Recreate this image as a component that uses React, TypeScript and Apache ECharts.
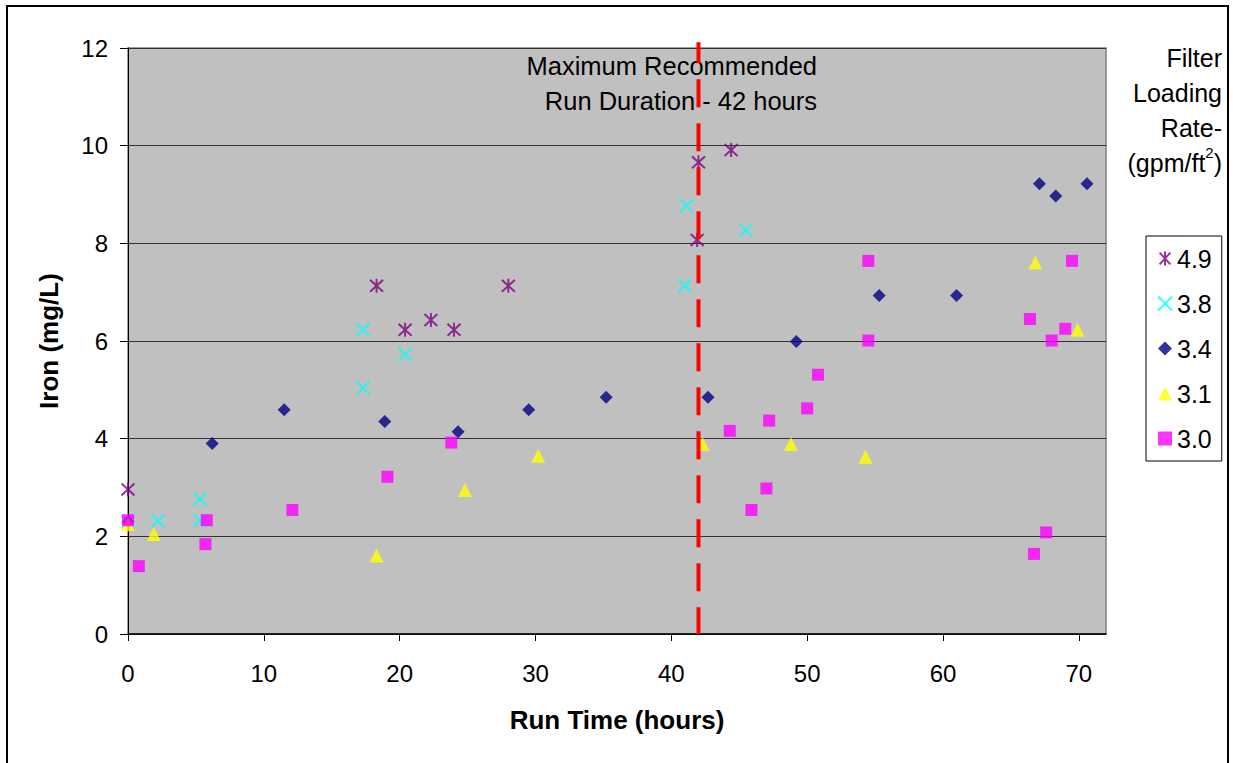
import React, { useEffect, useRef } from 'react';
import * as echarts from 'echarts';

// Filter loading rates (gpm/ft²)
const seriesNames = ['4.9', '3.8', '3.4', '3.1', '3.0'];

// [run time (hours), iron (mg/L)]
const rate49 = [
  [0, 2.96], [18.3, 7.13], [20.4, 6.23], [22.3, 6.43], [24.0, 6.23],
  [28.0, 7.13], [41.9, 8.07], [42.0, 9.66], [44.4, 9.91],
];
const rate38 = [
  [0, 2.3], [2.2, 2.32], [5.3, 2.32], [5.3, 2.76], [17.3, 5.04], [17.3, 6.23],
  [20.4, 5.73], [41.0, 7.13], [41.1, 8.77], [45.5, 8.27],
];
const rate34 = [
  [0, 2.3], [6.2, 3.9], [11.5, 4.59], [18.9, 4.35], [24.3, 4.14], [29.5, 4.59],
  [35.2, 4.85], [42.7, 4.85], [49.2, 5.99], [55.3, 6.93], [61.0, 6.93],
  [67.1, 9.22], [68.3, 8.97], [70.6, 9.22],
];
const rate31 = [
  [0, 2.25], [1.9, 2.05], [18.3, 1.61], [24.8, 2.95], [30.2, 3.65], [42.3, 3.89],
  [48.8, 3.89], [54.3, 3.63], [66.8, 7.61], [69.9, 6.23],
];
const rate30 = [
  [0, 2.33], [0.8, 1.39], [5.7, 1.84], [5.8, 2.33], [12.1, 2.54], [19.1, 3.22],
  [23.8, 3.92], [44.3, 4.16], [45.9, 2.54], [47.0, 2.98], [47.2, 4.37],
  [50.0, 4.62], [50.8, 5.31], [54.5, 6.01], [54.5, 7.64], [66.4, 6.45],
  [66.7, 1.64], [67.6, 2.08], [68.0, 6.01], [69.0, 6.25], [69.5, 7.64],
];

const xTicks = [0, 10, 20, 30, 40, 50, 60, 70];
const yTicks = [0, 2, 4, 6, 8, 10, 12];
const maxRunDuration = 42;
const limitLine = [[maxRunDuration, 12.12], [maxRunDuration, 0]];

const FONT = '"Liberation Sans", Arial, sans-serif';

export default function App() {
  const ref = useRef<HTMLDivElement>(null);

  useEffect(() => {
    document.body.style.margin = '0';
    const chart = echarts.init(ref.current!, null, { renderer: 'svg' });

    const asterisk = 'path://M1,1L11,12M11,1L1,12M6,0L6,13';
    const cross = 'path://M0,0L10,10M10,0L0,10';

    chart.setOption({
      animation: false,
      backgroundColor: '#ffffff',
      textStyle: { fontFamily: FONT },
      grid: {
        left: 128,
        top: 48,
        right: 127,
        bottom: 129,
        show: true,
        backgroundColor: '#C0C0C0',
        borderColor: '#808080',
        borderWidth: 1.5,
      },
      xAxis: {
        type: 'value',
        min: 0,
        max: 72,
        interval: 10,
        name: 'Run Time (hours)',
        nameLocation: 'middle',
        nameGap: 73,
        nameTextStyle: { fontSize: 26, fontWeight: 'bold', color: '#000', fontFamily: FONT },
        axisLine: { show: true, onZero: false, lineStyle: { color: '#000', width: 1.5 } },
        axisTick: { show: true, length: 7, customValues: xTicks, lineStyle: { color: '#000' } },
        axisLabel: { customValues: xTicks, margin: 27, fontSize: 24, color: '#000', fontFamily: FONT },
        splitLine: { show: false },
      },
      yAxis: {
        type: 'value',
        min: 0,
        max: 12,
        interval: 2,
        name: 'Iron (mg/L)',
        nameLocation: 'middle',
        nameGap: 66,
        nameTextStyle: { fontSize: 26, fontWeight: 'bold', color: '#000', fontFamily: FONT },
        axisLine: { show: true, onZero: false, lineStyle: { color: '#000', width: 1 } },
        axisTick: { show: true, length: 8, customValues: yTicks, lineStyle: { color: '#000' } },
        axisLabel: { customValues: yTicks, margin: 20, fontSize: 24, color: '#000', fontFamily: FONT },
        splitLine: { show: true, lineStyle: { color: '#333', width: 1 } },
      },
      legend: {
        data: seriesNames,
        orient: 'vertical',
        left: 1146,
        top: 236,
        padding: [10, 10, 10, 11],
        itemGap: 20,
        itemWidth: 14,
        itemHeight: 14,
        backgroundColor: '#fff',
        borderColor: '#000',
        borderWidth: 1,
        textStyle: { fontSize: 25, lineHeight: 22, color: '#000', fontFamily: FONT },
      },
      graphic: [
        {
          type: 'rect',
          shape: { x: 7, y: 6, width: 1221, height: 800 },
          style: { fill: 'none', stroke: '#000', lineWidth: 2 },
          z: 100,
          silent: true,
        },
        {
          type: 'text',
          x: 1222,
          y: 40,
          style: {
            text: 'Filter\nLoading\nRate-\n(gpm/ft{sup|2})',
            align: 'right',
            verticalAlign: 'top',
            lineHeight: 35,
            font: '25px ' + FONT,
            fill: '#000',
            rich: {
              sup: { fontSize: 15, lineHeight: 35, verticalAlign: 'top', padding: [0, 0, 12, 0], fontFamily: FONT, fill: '#000' },
            },
          },
          silent: true,
        },
        {
          type: 'text',
          x: 817,
          y: 48,
          z: 1,
          style: {
            text: 'Maximum Recommended\nRun Duration - 42 hours',
            align: 'right',
            verticalAlign: 'top',
            lineHeight: 35,
            font: '25.5px ' + FONT,
            fill: '#000',
          },
          silent: true,
        },
      ],
      series: [
        {
          name: '4.9',
          type: 'scatter',
          data: rate49,
          symbol: asterisk,
          symbolSize: [13, 14],
          itemStyle: { color: '#800080', borderColor: '#800080', borderWidth: 2 },
          z: 3,
        },
        {
          name: '3.8',
          type: 'scatter',
          data: rate38,
          symbol: cross,
          symbolSize: 13,
          itemStyle: { color: '#00FFFF', borderColor: '#00FFFF', borderWidth: 2 },
          z: 3,
        },
        {
          name: '3.4',
          type: 'scatter',
          data: rate34,
          symbol: 'diamond',
          symbolSize: 13,
          itemStyle: { color: '#000080' },
          z: 3,
        },
        {
          name: '3.1',
          type: 'scatter',
          data: rate31,
          symbol: 'triangle',
          symbolSize: 14,
          itemStyle: { color: '#FFFF00' },
          z: 3,
        },
        {
          name: '3.0',
          type: 'scatter',
          data: rate30,
          symbol: 'rect',
          symbolSize: 12,
          itemStyle: { color: '#FF00FF' },
          z: 3,
        },
        {
          name: 'Maximum Recommended Run Duration',
          type: 'line',
          data: limitLine,
          clip: false,
          symbol: 'none',
          lineStyle: { color: '#FF0000', width: 4, type: [28, 16], dashOffset: 7 },
          z: 4,
          silent: true,
        },
      ],
    });

    return () => chart.dispose();
  }, []);

  return <div ref={ref} style={{ width: 1233, height: 763 }} />;
}
